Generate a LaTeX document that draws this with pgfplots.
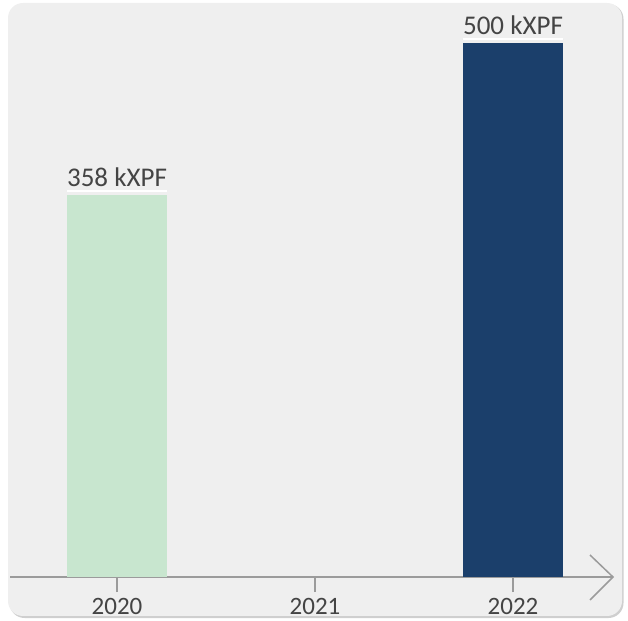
\documentclass[border=0pt]{standalone}
\usepackage{pgfplots}
\pgfplotsset{compat=1.18}
\usepackage{fontspec}
\setmainfont{Carlito}
\definecolor{panel}{HTML}{EFEFEF}
\definecolor{shadow}{HTML}{CFCFCF}
\definecolor{axisgray}{HTML}{9B9B9B}
\definecolor{txt}{HTML}{444444}
\definecolor{barA}{HTML}{C8E6CF}
\definecolor{barB}{HTML}{1B3F6B}
\begin{document}
\begin{tikzpicture}[x=1pt,y=1pt]
\useasboundingbox (0,0) rectangle (628,620);
\fill[shadow, rounded corners=15pt] (9.5,2) rectangle (623.5,616);
\fill[panel, rounded corners=15pt] (8,4) rectangle (622,617);
\begin{axis}[
  at={(10pt,43pt)}, anchor=south west,
  scale only axis, width=602pt, height=574pt,
  xmin=-0.5404, xmax=2.5, ymin=0, ymax=537.5,
  axis x line*=bottom, axis y line=none,
  axis line style={draw=axisgray, line width=1.5pt},
  xtick={0,1,2}, xticklabels={2020,2021,2022},
  major tick length=15pt, tick align=center,
  tick style={draw=axisgray, line width=1.5pt},
  xticklabel style={font=\fontsize{25}{30}\selectfont, text=txt, anchor=base, yshift=-22pt},
  ybar, bar width=100pt, bar shift=0pt,
  point meta=explicit symbolic,
  nodes near coords,
  every node near coord/.append style={
    font=\fontsize{27}{32}\selectfont, text=txt, anchor=south,
    inner xsep=0pt, inner ysep=4pt, yshift=4pt,
    append after command={(\tikzlastnode.south west) edge[draw=white, line width=2pt] (\tikzlastnode.south east)}},
  clip=false,
]
\addplot[fill=barA, draw=none] coordinates {(0,358) [358 kXPF]};
\addplot[fill=barB, draw=none] coordinates {(2,500) [500 kXPF]};
\end{axis}
\draw[axisgray, line width=1.5pt] (590,65) -- (613,43) -- (590,20);
\end{tikzpicture}
\end{document}
